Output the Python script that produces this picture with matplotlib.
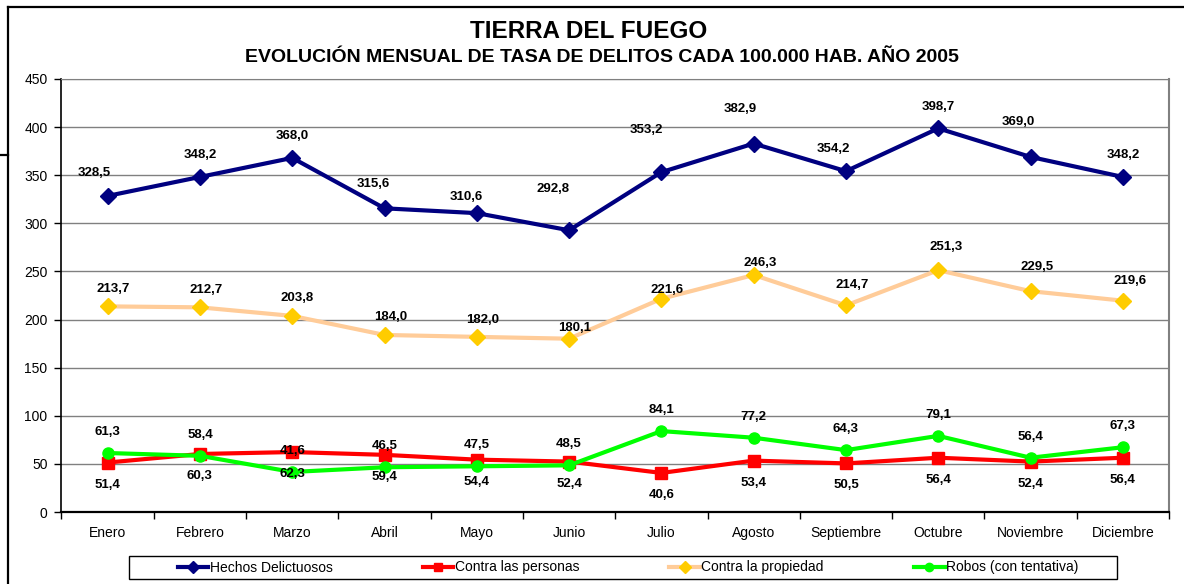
import numpy as np
import matplotlib
matplotlib.use("Agg")
import matplotlib.pyplot as plt
from matplotlib.lines import Line2D
from matplotlib.patches import Rectangle

meses = ["Enero", "Febrero", "Marzo", "Abril", "Mayo", "Junio", "Julio",
         "Agosto", "Septiembre", "Octubre", "Noviembre", "Diciembre"]
hechos = [328.5, 348.2, 368.0, 315.6, 310.6, 292.8, 353.2, 382.9, 354.2, 398.7, 369.0, 348.2]
personas = [51.4, 60.3, 62.3, 59.4, 54.4, 52.4, 40.6, 53.4, 50.5, 56.4, 52.4, 56.4]
propiedad = [213.7, 212.7, 203.8, 184.0, 182.0, 180.1, 221.6, 246.3, 214.7, 251.3, 229.5, 219.6]
robos = [61.3, 58.4, 41.6, 46.5, 47.5, 48.5, 84.1, 77.2, 64.3, 79.1, 56.4, 67.3]

# desplazamiento de las etiquetas (pixeles) respecto de cada punto
off_hechos = [(-13, 23), (0, 22), (0, 22), (-11, 24), (-11, 16), (-16, 41),
              (-15, 42), (-13, 35), (-13, 22), (0, 21), (-12, 35), (0, 22)]
off_prop = [(6, 17), (6, 17), (5, 18), (6, 18), (6, 17), (6, 11),
            (6, 9), (7, 12), (6, 20), (8, 23), (7, 24), (7, 20)]
off_robos = [(0, 21)] * 12
off_pers = [(0, -22)] * 12

W, H = 1184, 584
plt.rcParams["font.family"] = ["Liberation Sans", "DejaVu Sans"]

fig = plt.figure(figsize=(W / 100, H / 100), dpi=100)
fig.patch.set_facecolor("white")


def fx(x):
    return x / W


def fy(y):
    return 1 - y / H


ax = fig.add_axes([fx(61.5), fy(512), (1169 - 61.5) / W, (512 - 79) / H])
x = np.arange(len(meses))

series = [
    (hechos, "Hechos Delictuosos", "#000080", "D", "#000080", off_hechos),
    (personas, "Contra las personas", "#FF0000", "s", "#FF0000", off_pers),
    (propiedad, "Contra la propiedad", "#FFCC99", "D", "#FFCC00", off_prop),
    (robos, "Robos (con tentativa)", "#00FF00", "o", "#00FF00", off_robos),
]

handles = []
for vals, nombre, color, marker, mcolor, offs in series:
    ln, = ax.plot(x, vals, color=color, lw=3, marker=marker, markersize=8,
                  markerfacecolor=mcolor, markeredgecolor=mcolor, label=nombre,
                  zorder=3, clip_on=False)
    handles.append(ln)
    for xi, v, (dx, dy) in zip(x, vals, offs):
        ax.annotate(f"{v:.1f}".replace(".", ","), xy=(xi, v), xytext=(dx, dy),
                    textcoords="offset pixels", ha="center", va="center",
                    fontsize=9.5, fontweight="bold", color="black", zorder=5)

ax.set_xlim(-0.5, len(meses) - 0.5)
ax.set_ylim(0, 450)
ax.set_yticks(np.arange(0, 451, 50))
ax.yaxis.grid(True, color="#808080", lw=1)
ax.set_axisbelow(True)
ax.set_xticks(x)
ax.set_xticklabels(meses, fontsize=10)
ax.set_xticks(np.arange(-0.5, len(meses), 1), minor=True)
ax.tick_params(axis="x", which="major", length=0, pad=10)
ax.tick_params(axis="x", which="minor", length=5, width=1, color="black")
ax.tick_params(axis="y", length=5, width=1, pad=5, labelsize=10)

ax.spines["left"].set_color("black")
ax.spines["left"].set_linewidth(1.2)
ax.spines["bottom"].set_color("black")
ax.spines["bottom"].set_linewidth(1.6)
ax.spines["top"].set_color("#808080")
ax.spines["right"].set_color("#808080")
ax.spines["right"].set_linewidth(1.5)

# titulos
fig.text(fx(589), fy(32), "TIERRA DEL FUEGO", ha="center", va="center",
         fontsize=17.5, fontweight="bold")
fig.text(fx(602), fy(57),
         "EVOLUCIÓN MENSUAL DE TASA DE DELITOS CADA 100.000 HAB. AÑO 2005",
         ha="center", va="center", fontsize=14, fontweight="bold")

# marco exterior
fig.add_artist(Line2D([fx(8), fx(W)], [fy(7), fy(7)], color="black", lw=1.6,
                      transform=fig.transFigure))
fig.add_artist(Line2D([fx(8), fx(8)], [fy(7), fy(H)], color="black", lw=1.6,
                      transform=fig.transFigure))
fig.add_artist(Line2D([fx(0), fx(8)], [fy(155), fy(155)], color="black", lw=1.6,
                      transform=fig.transFigure))

# leyenda
fig.add_artist(Rectangle((fx(129), fy(579)), (1117 - 129) / W, 23 / H,
                         facecolor="white", edgecolor="black", lw=1,
                         transform=fig.transFigure))
leg = fig.legend(handles=handles, loc="center", bbox_to_anchor=(fx(628), fy(567.5)),
                 ncol=4, frameon=False, handlelength=2.2, handletextpad=0.1,
                 columnspacing=6.5, prop={"size": 10})
for h in leg.legend_handles:
    h.set_markersize(6)

fig.savefig("out.png", dpi=100)
